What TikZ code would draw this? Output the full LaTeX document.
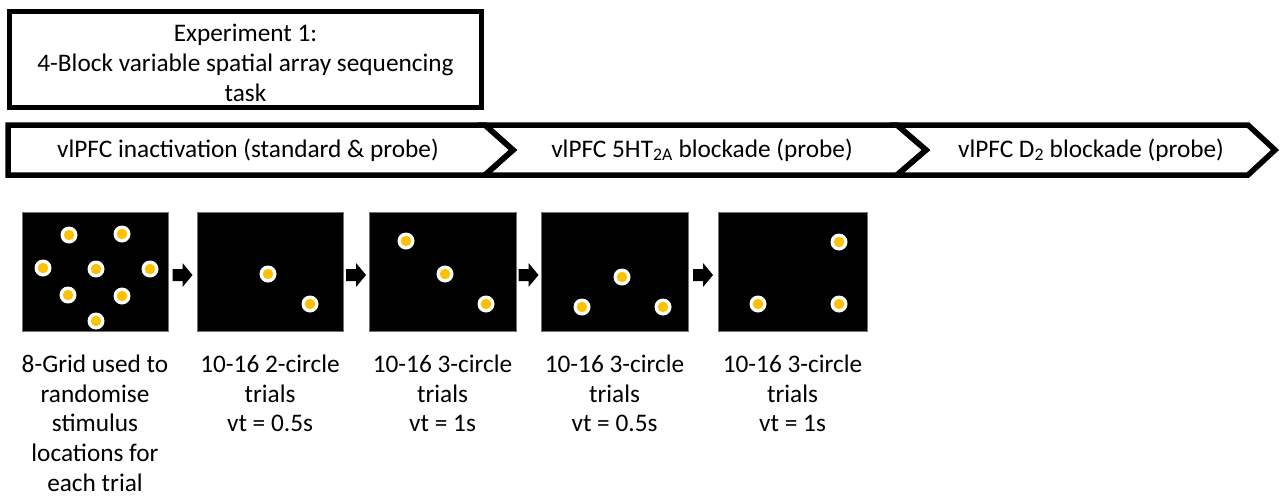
\documentclass[tikz,border=0pt]{standalone}
\usepackage{fontspec}
\setmainfont{Carlito}
\usetikzlibrary{calc}
\begin{document}
\begin{tikzpicture}[x=1pt,y=-1pt,
  boxline/.style={draw=black, line width=5.5pt, line join=miter},
  txt/.style={font=\fontsize{25.3}{29.8}\selectfont, inner sep=0pt, align=center},
  screen/.style={fill=black, draw=black!55, line width=0.6pt, inner sep=0pt, minimum width=146pt, minimum height=119pt},
  dotring/.style={fill=white},
  dotcore/.style={fill=dotyellow},
]
\definecolor{dotyellow}{HTML}{FFC000}
\useasboundingbox (0,0) rectangle (1283,498);

% Title box
\draw[boxline] (9.5,11.5) rectangle (481.5,107.5);
\node[txt] (title) at (245.5,63) {Experiment 1:\\4-Block variable spatial array sequencing\\task};

% Chevrons
\draw[boxline] (8,125) -- (485,125) -- (513,150) -- (485,175) -- (8,175) -- cycle;
\draw[boxline] (485,125) -- (897,125) -- (926,150) -- (897,175) -- (485,175) -- (513,150) -- cycle;
\draw[boxline] (897,125) -- (1248,125) -- (1275,150) -- (1248,175) -- (897,175) -- (926,150) -- cycle;
\node[txt] (ch1) at (248,150) {vlPFC inactivation (standard \& probe)};
\node[txt] (ch2) at (702,150) {vlPFC 5HT\textsubscript{2A} blockade (probe)};
\node[txt] (ch3) at (1091,150) {vlPFC D\textsubscript{2} blockade (probe)};

% Screens
\node[screen, minimum width=146pt] (s1) at (95,271.5) {};
\node[screen, minimum width=146pt] (s2) at (270,271.5) {};
\node[screen, minimum width=147pt] (s3) at (442.5,271.5) {};
\node[screen, minimum width=147pt] (s4) at (614.5,271.5) {};
\node[screen, minimum width=149pt] (s5) at (792.5,271.5) {};

% Dots
\newcommand{\stim}[2]{\fill[dotring] (#1,#2) circle (8.5); \fill[dotcore] (#1,#2) circle (5.2);}
\stim{69}{235}\stim{122}{234}\stim{43}{268}\stim{96}{269}\stim{150}{269}\stim{68}{295}\stim{122}{296}\stim{96}{321}
\stim{268}{274}\stim{310}{304}
\stim{406}{241}\stim{445}{274}\stim{486}{304}
\stim{622}{277}\stim{582}{307}\stim{663}{307}
\stim{839}{242}\stim{758}{304}\stim{839}{304}

% Block arrows between screens
\foreach \a/\b in {s1/s2,s2/s3,s3/s4,s4/s5}{
  \coordinate (m) at ($(\a.east)!0.5!(\b.west)+(0,3.5)$);
  \fill[black] ($(m)+(-10,-6)$) -- ++(10,0) -- ++(0,-6) -- ++(10,12) -- ++(-10,12) -- ++(0,-6) -- ++(-10,0) -- cycle;
}

% Labels
\node[txt, anchor=north] (l1) at (95,354.5) {8-Grid used to\\randomise\\stimulus\\locations for\\each trial};
\node[txt, anchor=north] (l2) at (270,354.5) {10-16 2-circle\\trials\\vt = 0.5s};
\node[txt, anchor=north] (l3) at (442.5,354.5) {10-16 3-circle\\trials\\vt = 1s};
\node[txt, anchor=north] (l4) at (614.5,354.5) {10-16 3-circle\\trials\\vt = 0.5s};
\node[txt, anchor=north] (l5) at (792.5,354.5) {10-16 3-circle\\trials\\vt = 1s};
\end{tikzpicture}
\end{document}
